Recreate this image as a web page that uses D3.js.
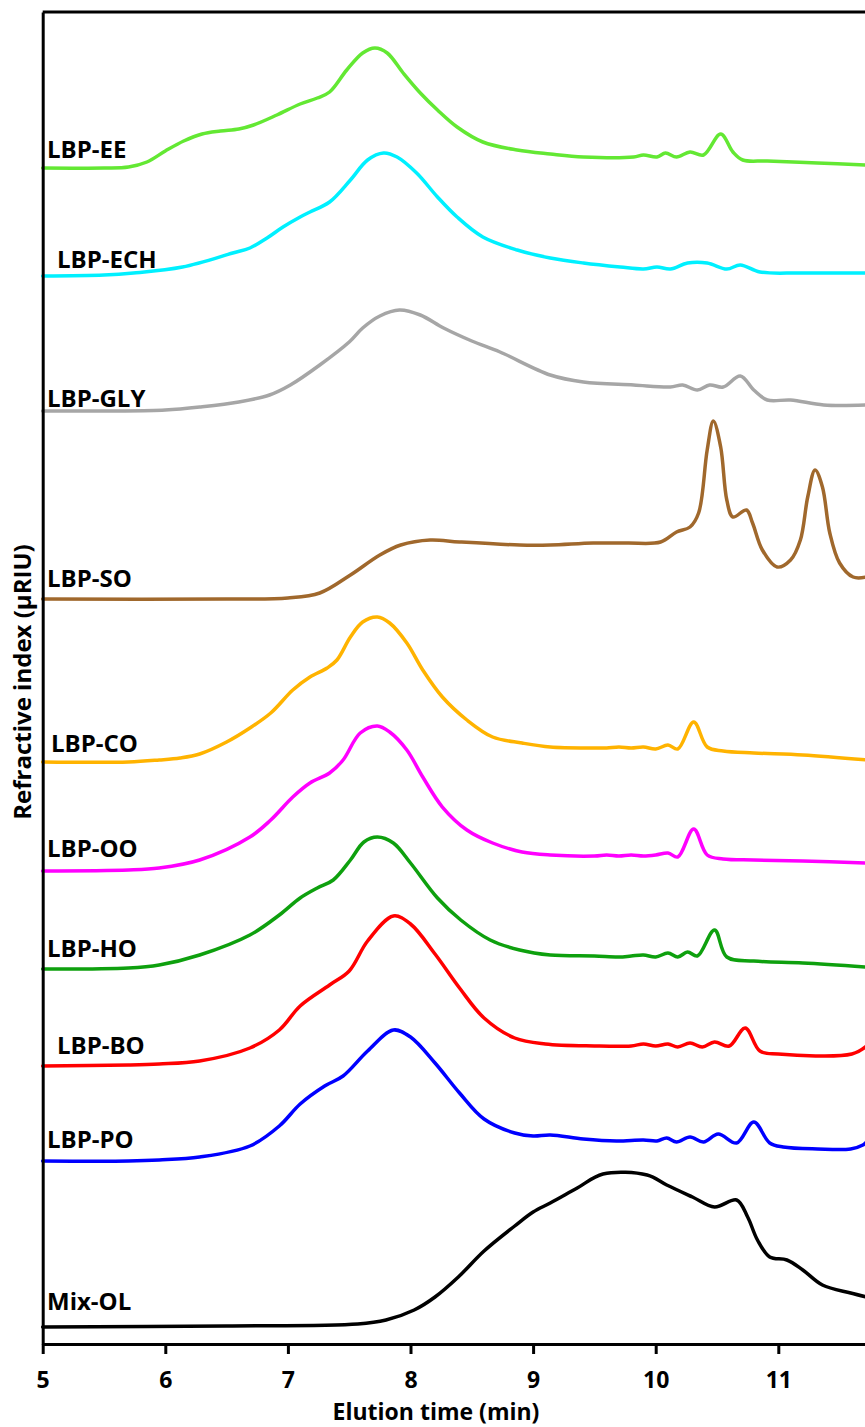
<!DOCTYPE html>
<html>
<head>
<meta charset="utf-8">
<script src="https://cdn.jsdelivr.net/npm/d3@7"></script>
<style>
  body { margin: 0; background: #fff; }
  svg { display: block; }
  text { font-family: "Open Sans", sans-serif; font-weight: 700; fill: #000; }
</style>
</head>
<body>
<svg id="chart" width="865" height="1427"></svg>
<script>
// Stacked GPC refractive-index traces: [elution time (min), signal above trace baseline (µRIU)]
const seriesNames = ["LBP-EE", "LBP-ECH", "LBP-GLY", "LBP-SO", "LBP-CO", "LBP-OO", "LBP-HO", "LBP-BO", "LBP-PO", "Mix-OL"];
const seriesColors = ["#63E833", "#00F0FF", "#A6A6A6", "#A0682C", "#FFB300", "#FF00FF", "#0EA00E", "#FF0000", "#0000FF", "#000000"];
// vertical offset of each trace (µRIU)
const baselines = [1176, 1068, 933, 745, 582, 473, 375, 278, 183, 17];

const lbpEE = [[5.0,0],[5.5,0],[5.70,1],[5.85,6],[6.0,17],[6.15,27],[6.30,34],[6.45,37],[6.60,39],[6.72,43],[6.91,53],[7.10,64],[7.24,70],[7.34,76],[7.48,98],[7.61,115],[7.71,120],[7.81,115],[7.94,95],[8.08,75],[8.22,58],[8.38,41],[8.59,26],[8.87,18],[9.14,14],[9.41,11],[9.82,11],[9.90,13],[10.01,11],[10.08,15],[10.17,11],[10.28,16],[10.39,13],[10.53,34],[10.63,16],[10.71,8],[10.91,7],[11.32,5],[11.72,3]];
const lbpECH = [[5.0,0],[5.5,1],[5.74,3],[6.14,9],[6.55,23],[6.69,28],[6.83,38],[6.96,49],[7.10,59],[7.18,64],[7.34,74],[7.51,96],[7.65,116],[7.78,123],[7.89,119],[8.05,103],[8.22,79],[8.38,59],[8.59,39],[8.87,26],[9.14,18],[9.41,13],[9.71,9],[9.90,7],[10.01,9],[10.12,7],[10.26,13],[10.42,13],[10.58,7],[10.69,11],[10.85,4],[11.18,3],[11.72,3]];
const lbpGLY = [[5.0,0],[5.6,0],[6.0,1],[6.28,4],[6.60,9],[6.85,16],[7.02,26],[7.26,46],[7.50,69],[7.61,83],[7.75,95],[7.91,101],[8.08,96],[8.27,83],[8.50,70],[8.73,59],[9.14,36],[9.41,29],[9.82,26],[10.12,24],[10.22,26],[10.34,21],[10.44,26],[10.55,24],[10.69,35],[10.80,21],[10.91,11],[11.10,11],[11.37,6],[11.72,6]];
const lbpSO = [[5.0,0],[6.5,0],[7.0,1],[7.26,6],[7.51,24],[7.75,44],[7.92,54],[8.16,59],[8.40,57],[8.89,54],[9.14,54],[9.49,56],[9.77,56],[10.04,57],[10.17,67],[10.28,72],[10.35,86],[10.42,149],[10.47,178],[10.53,152],[10.58,99],[10.63,82],[10.74,89],[10.79,76],[10.87,49],[10.99,32],[11.10,39],[11.18,59],[11.24,102],[11.30,129],[11.36,112],[11.42,66],[11.50,36],[11.61,22],[11.72,22]];
const lbpCO = [[5.0,0],[5.7,0],[5.95,2],[6.12,4],[6.28,8],[6.50,20],[6.69,34],[6.86,49],[7.04,72],[7.18,85],[7.32,94],[7.40,102],[7.51,125],[7.61,140],[7.73,145],[7.83,139],[7.97,119],[8.10,92],[8.26,65],[8.46,42],[8.67,25],[8.91,19],[9.14,15],[9.50,14],[9.60,14],[9.70,15],[9.80,14],[9.90,15],[10.0,13],[10.10,17],[10.18,13],[10.31,40],[10.42,15],[10.55,11],[10.80,9],[11.20,7],[11.72,2]];
const lbpOO = [[5.0,0],[5.7,1],[5.95,3],[6.28,11],[6.69,34],[6.86,51],[7.04,74],[7.18,88],[7.34,98],[7.45,111],[7.59,138],[7.73,145],[7.83,139],[7.97,121],[8.10,94],[8.26,64],[8.46,41],[8.67,28],[8.91,19],[9.14,16],[9.50,15],[9.60,16],[9.70,15],[9.80,16],[9.90,15],[10.0,16],[10.10,18],[10.18,14],[10.31,42],[10.42,16],[10.55,12],[10.80,11],[11.20,10],[11.72,8]];
const lbpHO = [[5.0,0],[5.7,1],[5.95,4],[6.28,14],[6.69,34],[6.93,54],[7.10,71],[7.24,81],[7.37,89],[7.51,109],[7.62,127],[7.73,132],[7.86,126],[8.00,106],[8.22,71],[8.41,49],[8.65,29],[8.89,19],[9.14,14],[9.50,13],[9.70,12],[9.80,13],[9.90,14],[10.0,12],[10.10,16],[10.18,12],[10.26,17],[10.34,13],[10.48,39],[10.58,12],[10.80,8],[11.20,6],[11.72,2]];
const lbpBO = [[5.0,0],[5.7,1],[5.95,2],[6.28,5],[6.69,18],[6.93,36],[7.10,60],[7.34,81],[7.50,95],[7.65,125],[7.86,150],[8.00,142],[8.20,112],[8.40,78],[8.60,48],[8.85,28],[9.10,22],[9.50,20],[9.80,20],[9.90,22],[10.0,20],[10.10,22],[10.18,19],[10.28,23],[10.38,19],[10.48,24],[10.60,20],[10.73,38],[10.85,15],[11.0,12],[11.60,12],[11.72,20]];
const lbpPO = [[5.0,0],[5.7,0],[5.95,1],[6.28,4],[6.69,15],[6.93,35],[7.10,57],[7.30,75],[7.45,85],[7.65,110],[7.86,131],[8.00,124],[8.20,98],[8.40,68],[8.60,42],[8.85,28],[9.00,25],[9.14,26],[9.41,22],[9.68,20],[9.90,21],[10.01,20],[10.09,23],[10.17,19],[10.28,24],[10.39,19],[10.51,27],[10.66,18],[10.80,39],[10.93,18],[11.04,14],[11.32,12],[11.59,12],[11.69,16],[11.72,19]];
const mixOL = [[5.0,0],[6.5,1],[7.57,3],[7.80,7],[8.03,17],[8.20,30],[8.39,50],[8.60,76],[8.85,101],[9.00,115],[9.14,124],[9.36,139],[9.57,153],[9.93,152],[10.09,142],[10.30,130],[10.48,120],[10.66,127],[10.75,110],[10.83,87],[10.93,70],[11.07,67],[11.20,57],[11.36,42],[11.59,34],[11.72,30]];

const traces = [lbpEE, lbpECH, lbpGLY, lbpSO, lbpCO, lbpOO, lbpHO, lbpBO, lbpPO, mixOL];
const xTicks = [5, 6, 7, 8, 9, 10, 11];

const svg = d3.select("#chart");
const x = d3.scaleLinear().domain([5, 12]).range([42.7, 42.7 + 7 * 122.6]);
const y = d3.scaleLinear().domain([0, 1332]).range([1344, 12]);

const line = d3.line()
  .x(d => x(d[0]))
  .y(d => d[1])
  .curve(d3.curveCatmullRom.alpha(0.5));

// traces
traces.forEach((tr, i) => {
  const pts = tr.map(d => [d[0], y(baselines[i] + d[1])]);
  svg.append("path")
    .attr("d", line(pts))
    .attr("fill", "none")
    .attr("stroke", seriesColors[i])
    .attr("stroke-width", 3.5)
    .attr("stroke-linejoin", "round")
    .attr("stroke-linecap", "round");
});

// trace labels
const labelDx = [47, 57, 47, 47, 51, 47, 47, 57, 47, 47];
const labelLift = [10, 8, 4, 12, 10, 14, 12, 12, 13, 17];
seriesNames.forEach((name, i) => {
  svg.append("text")
    .attr("x", labelDx[i])
    .attr("y", y(baselines[i]) - labelLift[i])
    .attr("font-size", 24)
    .text(name);
});

// frame: top border and left axis
svg.append("line")
  .attr("x1", x(5)).attr("x2", x(12))
  .attr("y1", y(1332)).attr("y2", y(1332))
  .attr("stroke", "#000").attr("stroke-width", 3);

const yAxis = svg.append("g")
  .attr("transform", `translate(${x(5)},0)`)
  .call(d3.axisLeft(y).ticks(0).tickSizeOuter(0));
yAxis.select(".domain").attr("stroke", "#000").attr("stroke-width", 3);

const xAxis = svg.append("g")
  .attr("transform", `translate(0,${y(0)})`)
  .call(d3.axisBottom(x).tickValues(xTicks).tickSize(10).tickSizeOuter(0).tickFormat(d3.format("d")));
xAxis.select(".domain").attr("stroke", "#000").attr("stroke-width", 3);
xAxis.selectAll(".tick line").attr("stroke", "#000").attr("stroke-width", 3);
xAxis.selectAll(".tick text")
  .attr("y", 0).attr("dy", null)
  .attr("transform", "translate(0,44)")
  .attr("font-family", "Open Sans, sans-serif")
  .attr("font-weight", 700)
  .attr("font-size", 23)
  .attr("fill", "#000");

// axis titles
svg.append("text")
  .attr("x", 436).attr("y", 1420)
  .attr("text-anchor", "middle")
  .attr("font-size", 23)
  .text("Elution time (min)");

svg.append("text")
  .attr("transform", "translate(31,682) rotate(-90)")
  .attr("text-anchor", "middle")
  .attr("font-size", 24)
  .text("Refractive index (µRIU)");
</script>
</body>
</html>
